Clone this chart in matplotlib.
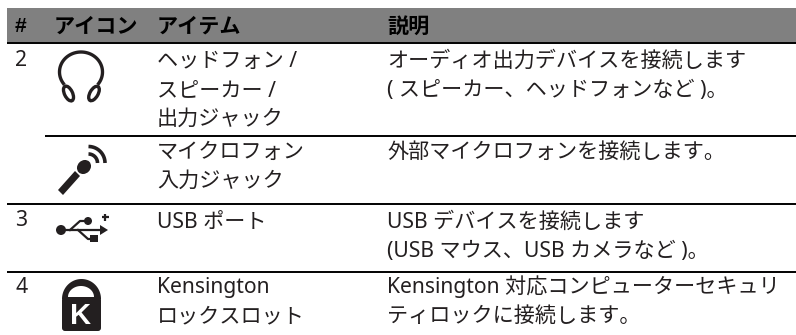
#!/usr/bin/env python3
"""Port/icon table: header band, rules, icons drawn as patches."""
import matplotlib
matplotlib.use("Agg")
import matplotlib.pyplot as plt
import matplotlib.patches as mpatches
import numpy as np

plt.rcParams["font.family"] = ["Noto Sans", "Noto Sans CJK JP", "DejaVu Sans"]

HEADERS = ["アイコン", "アイテム", "説明"]
NUMBERS = ["2", "3", "4"]
ITEMS = [
    "ヘッドフォン /\nスピーカー /\n出力ジャック",
    "マイクロフォン\n入力ジャック",
    "USB ポート",
    "Kensington\nロックスロット",
]
DESCRIPTIONS = [
    "オーディオ出力デバイスを接続します\n( スピーカー、ヘッドフォンなど )。",
    "外部マイクロフォンを接続します。",
    "USB デバイスを接続します\n(USB マウス、USB カメラなど )。",
    "Kensington 対応コンピューターセキュリ\nティロックに接続します。",
]

# layout in pixels
W, H = 796, 335
HEADER_X = [54, 157, 387]
NUMBER_Y = [66, 226, 293]
ROW_Y = [67, 158, 228, 293]
LINE_H = 29
INK = "#231f20"
FS = 15.2


def multiline(ax, x, y, s, dy=LINE_H):
    for i, line in enumerate(s.split("\n")):
        ax.text(x, y + i * dy, line, fontsize=FS, color=INK, ha="left", va="baseline")


def headphones(ax):
    t = np.radians(np.linspace(-215, 35, 80))
    ax.plot(81 + 21.5 * np.cos(t), 72 + 20 * np.sin(t), color=INK, lw=2.4)
    for cx, ang in ((68.5, 64), (94, -60)):
        ax.add_patch(mpatches.Ellipse((cx, 93.5), 16, 8, angle=ang, fc="none", ec=INK, lw=2.4))


def microphone(ax):
    ax.add_patch(mpatches.Polygon([[58, 190], [63, 195], [80, 176], [75, 171]], fc=INK, ec="none"))
    ax.add_patch(mpatches.Ellipse((84, 167), 15, 13, angle=-45, fc=INK, ec="none"))
    t = np.radians(np.linspace(-90, 0, 20))
    for r in (9, 16.5):
        ax.plot(88.5 + r * np.cos(t), 163 + r * np.sin(t), color=INK, lw=2.6, solid_capstyle="butt")


def usb(ax):
    ax.add_patch(mpatches.Circle((61, 230), 5, fc=INK, ec="none"))
    ax.plot([61, 102], [230, 230], color=INK, lw=1.6)
    ax.add_patch(mpatches.Polygon([[100, 225], [108, 230], [100, 235]], fc=INK, ec="none"))
    ax.plot([70, 80, 87], [230, 221, 221], color=INK, lw=1.6)
    ax.add_patch(mpatches.Circle((88, 221), 4, fc=INK, ec="none"))
    ax.plot([78, 88, 93], [230, 239, 239], color=INK, lw=1.6)
    ax.add_patch(mpatches.Rectangle((90, 235), 8, 7, fc=INK, ec="none"))
    ax.plot([101.5, 108.5], [217, 217], color=INK, lw=1.6, solid_capstyle="butt")
    ax.plot([105, 105], [213.5, 220.5], color=INK, lw=1.6, solid_capstyle="butt")


def lock(ax):
    ax.add_patch(mpatches.FancyBboxPatch((62, 297), 39, 34, boxstyle="round,pad=0,rounding_size=3", fc=INK, ec="none"))
    t = np.radians(np.linspace(180, 360, 50))
    ax.add_patch(mpatches.Polygon(np.c_[81.5 + 19.5 * np.cos(t), 299 + 20 * np.sin(t)], fc=INK, ec="none"))
    ax.add_patch(mpatches.Polygon(np.c_[81 + 13 * np.cos(t), 297 + 11 * np.sin(t)], fc="white", ec="none"))
    ax.text(80.5, 324, "K", fontsize=21, fontweight="bold", family="Liberation Sans",
            color="white", ha="center", va="baseline")


fig = plt.figure(figsize=(W / 100, H / 100), dpi=100, facecolor="white")
ax = fig.add_axes([0, 0, 1, 1])
ax.set_xlim(0, W)
ax.set_ylim(H, 0)
ax.axis("off")

# header band and rules
ax.add_patch(mpatches.Rectangle((7, 8), W - 7, 34, fc="#808080", ec="none"))
for x0, y in ((7, 43), (45, 136), (7, 204), (7, 271.5)):
    ax.plot([x0, W], [y, y], color="black", lw=1.4, solid_capstyle="butt")

ax.text(15, 32, "#", fontsize=FS, fontweight="bold", family="Liberation Sans", color="black", ha="left", va="baseline")
for x, s in zip(HEADER_X, HEADERS):
    ax.text(x, 33, s, fontsize=FS, fontweight="bold", family="Noto Sans CJK JP", color="black", ha="left", va="baseline")

for y, s in zip(NUMBER_Y, NUMBERS):
    ax.text(15, y, s, fontsize=FS, color=INK, ha="left", va="baseline")

for y, item, desc in zip(ROW_Y, ITEMS, DESCRIPTIONS):
    multiline(ax, 157, y, item)
    multiline(ax, 387, y, desc)

headphones(ax)
microphone(ax)
usb(ax)
lock(ax)

fig.savefig("out.png", dpi=100, facecolor="white")
